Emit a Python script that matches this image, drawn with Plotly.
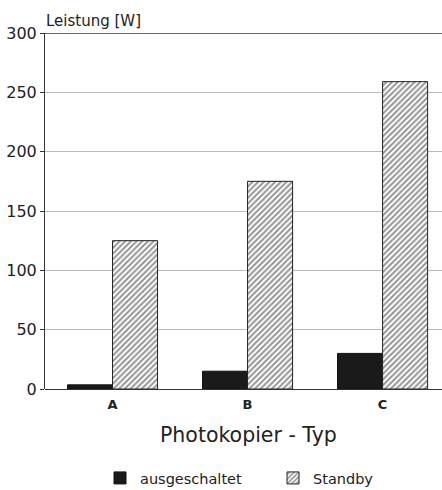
import plotly.graph_objects as go

categories = ["A", "B", "C"]
off_values = [3.5, 15, 30]
standby_values = [125, 175, 259]
y_ticks = [0, 50, 100, 150, 200, 250, 300]

fig = go.Figure()
fig.add_bar(
    x=categories, y=off_values, name="ausgeschaltet",
    marker=dict(color="#1a1a1a", line=dict(color="#111", width=1)),
)
fig.add_bar(
    x=categories, y=standby_values, name="Standby",
    marker=dict(
        color="white",
        line=dict(color="#222", width=1),
        pattern=dict(shape="/", fgcolor="#2a2a2a", bgcolor="white", size=4, solidity=0.5),
    ),
)

W, H = 442, 490
L, T, B = 45, 33, 101
font = "DejaVu Sans, Liberation Sans, sans-serif"
fig.update_layout(
    width=W, height=H,
    margin=dict(l=L, r=0, t=T, b=B),
    paper_bgcolor="white", plot_bgcolor="white",
    barmode="group", bargap=0.333, bargroupgap=0,
    font=dict(family=font, color="#222"),
    showlegend=True,
    legend=dict(
        orientation="h", x=100 / W, xanchor="left", xref="container",
        y=12 / H, yanchor="middle", yref="container",
        font=dict(size=14.5, family=font, color="#222"), traceorder="normal",
        entrywidth=128, entrywidthmode="pixels",
    ),
    xaxis=dict(
        range=[-0.5, 2.44], showgrid=False, showline=False,
        tickfont=dict(size=13, family=font, color="#222", weight="bold"),
        ticks="", ticklabelstandoff=6,
    ),
    yaxis=dict(
        range=[0, 300], tickvals=y_ticks, showgrid=True, gridcolor="#bbbbbb", gridwidth=1,
        showline=True, linecolor="#333", linewidth=1, ticks="outside", ticklen=4, tickcolor="#333",
        tickfont=dict(size=16, family=font, color="#222"),
        zeroline=True, zerolinecolor="#333", zerolinewidth=1,
    ),
    shapes=[dict(type="line", xref="paper", yref="y", x0=0, x1=1, y0=300, y1=300,
                 line=dict(color="#333", width=1.5))],
    annotations=[
        dict(text="Leistung [W]", xref="paper", yref="paper", x=0, y=1.0, xshift=-1,
             xanchor="left", yanchor="bottom", yshift=1, showarrow=False,
             font=dict(size=15, family=font, color="#222")),
        dict(text="Photokopier - Typ", xref="paper", yref="paper",
             x=(248 - L) / (W - L), y=0, yshift=-46,
             xanchor="center", yanchor="middle", showarrow=False,
             font=dict(size=20.5, family=font, color="#222")),
    ],
)

fig.write_html("out.html", config={"displayModeBar": False},
               post_script="document.body.style.margin='0';")
